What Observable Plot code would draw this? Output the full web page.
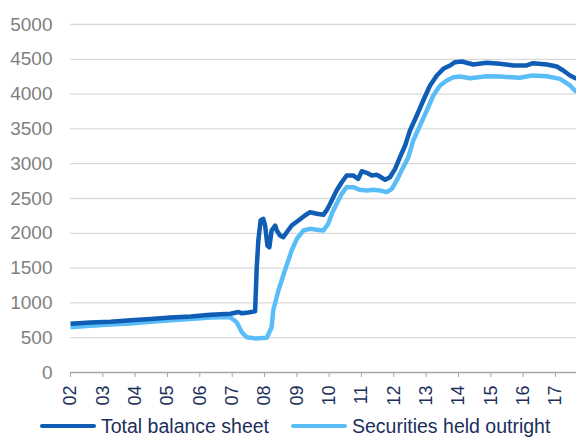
<!DOCTYPE html>
<html>
<head>
<meta charset="utf-8">
<script src="https://cdn.jsdelivr.net/npm/d3@7"></script>
<script src="https://cdn.jsdelivr.net/npm/@observablehq/plot@0.6"></script>
<style>
  html, body { margin: 0; padding: 0; background: #fff; }
  body { width: 576px; height: 437px; overflow: hidden; font-family: "Liberation Sans", Arial, sans-serif; }
  #chart svg { display: block; }
  .legend { position: relative; height: 22px; }
  .legend .item { position: absolute; top: 0px; display: flex; align-items: center; font-size: 19.5px; color: #1b2f5b; line-height: 22px; white-space: nowrap; }
  .legend .sw { display: inline-block; width: 56px; height: 4px; border-radius: 2px; margin-right: 5px; }
</style>
</head>
<body>
<div id="chart"></div>
<div class="legend" id="legend"></div>
<script>
const seriesNames = ["Total balance sheet", "Securities held outright"];
const seriesColors = ["#0f5db4", "#5bbdf8"];

const totalYears = [2002.00, 2002.62, 2003.24, 2003.86, 2004.48, 2005.10, 2005.72, 2006.33, 2006.95, 2007.20, 2007.30, 2007.50, 2007.71, 2007.76, 2007.81, 2007.88, 2007.96, 2008.02, 2008.09, 2008.15, 2008.22, 2008.33, 2008.38, 2008.48, 2008.58, 2008.69, 2008.84, 2009.05, 2009.25, 2009.41, 2009.62, 2009.82, 2009.92, 2010.03, 2010.23, 2010.39, 2010.54, 2010.75, 2010.90, 2011.01, 2011.16, 2011.32, 2011.47, 2011.57, 2011.73, 2011.88, 2012.04, 2012.19, 2012.35, 2012.50, 2012.71, 2012.91, 2013.12, 2013.33, 2013.53, 2013.74, 2013.89, 2014.10, 2014.46, 2014.87, 2015.28, 2015.70, 2016.11, 2016.31, 2016.73, 2017.04, 2017.24, 2017.45, 2017.65];
const totalValues = [700, 718, 730, 750, 770, 790, 805, 830, 845, 870, 850, 862, 880, 1513, 1897, 2184, 2208, 2112, 1825, 1800, 2040, 2112, 2040, 1968, 1944, 2016, 2112, 2184, 2256, 2303, 2280, 2266, 2328, 2424, 2615, 2734, 2830, 2830, 2783, 2892, 2869, 2830, 2840, 2816, 2768, 2806, 2926, 3093, 3261, 3477, 3693, 3908, 4124, 4267, 4363, 4411, 4459, 4468, 4425, 4449, 4435, 4411, 4411, 4444, 4425, 4397, 4339, 4267, 4219];

const secYears = [2002.00, 2002.62, 2003.24, 2003.86, 2004.48, 2005.10, 2005.72, 2006.33, 2006.93, 2007.14, 2007.30, 2007.45, 2007.71, 2008.07, 2008.22, 2008.27, 2008.43, 2008.63, 2008.84, 2009.00, 2009.20, 2009.41, 2009.62, 2009.82, 2009.97, 2010.10, 2010.23, 2010.39, 2010.54, 2010.75, 2010.95, 2011.16, 2011.37, 2011.57, 2011.78, 2011.94, 2012.09, 2012.24, 2012.45, 2012.60, 2012.81, 2013.02, 2013.22, 2013.43, 2013.64, 2013.84, 2014.05, 2014.36, 2014.87, 2015.28, 2015.90, 2016.27, 2016.73, 2017.14, 2017.45, 2017.65];
const secValues = [651, 672, 688, 705, 728, 750, 768, 790, 798, 723, 579, 507, 490, 500, 651, 891, 1178, 1466, 1753, 1920, 2040, 2064, 2050, 2040, 2136, 2300, 2424, 2567, 2663, 2663, 2625, 2615, 2625, 2615, 2591, 2639, 2759, 2902, 3093, 3333, 3549, 3764, 3980, 4124, 4196, 4243, 4253, 4229, 4257, 4253, 4234, 4267, 4257, 4219, 4124, 4028];

const yTicks = [0, 500, 1000, 1500, 2000, 2500, 3000, 3500, 4000, 4500, 5000];
const yTickLabels = ["0", "500", "1000", "1500", "2000", "2500", "3000", "3500", "4000", "4500", "5000"];
const xTicks = [2002, 2003, 2004, 2005, 2006, 2007, 2008, 2009, 2010, 2011, 2012, 2013, 2014, 2015, 2016, 2017];
const xTickLabels = ["02", "03", "04", "05", "06", "07", "08", "09", "10", "11", "12", "13", "14", "15", "16", "17"];
const xDomain = [2002, 2017.65];

const total = totalYears.map((x, i) => ({x, y: totalValues[i]}));
const sec = secYears.map((x, i) => ({x, y: secValues[i]}));
const xLabelOf = new Map(xTicks.map((t, i) => [t, xTickLabels[i]]));
const yLabelOf = new Map(yTicks.map((t, i) => [t, yTickLabels[i]]));

const chart = Plot.plot({
  width: 576,
  height: 415,
  marginLeft: 70,
  marginRight: 0,
  marginTop: 24,
  marginBottom: 43,
  style: {fontFamily: '"Liberation Sans", Arial, sans-serif', background: "#fff", overflow: "visible"},
  x: {domain: xDomain, label: null},
  y: {domain: [0, 5000], label: null},
  marks: [
    Plot.ruleY(yTicks.filter(d => d > 0), {x1: xDomain[0], x2: xDomain[1], stroke: "#d9d9d9", strokeWidth: 1.3}),
    Plot.ruleY([0], {x1: xDomain[0], x2: xDomain[1], stroke: "#a6a6a6", strokeWidth: 1.3}),
    Plot.axisY({ticks: yTicks, tickFormat: d => yLabelOf.get(d), tickSize: 0, tickPadding: 18, fontSize: 19, fill: "#7f7f7f", label: null}),
    Plot.axisX({ticks: xTicks, tickFormat: d => xLabelOf.get(d), tickSize: 5, tickPadding: 8, tickRotate: -90, fontSize: 18, fill: "#1b2f5b", stroke: "#a6a6a6", label: null}),
    Plot.line(sec, {x: "x", y: "y", stroke: seriesColors[1], strokeWidth: 4.5, strokeLinejoin: "round", strokeLinecap: "butt"}),
    Plot.line(total, {x: "x", y: "y", stroke: seriesColors[0], strokeWidth: 4.5, strokeLinejoin: "round", strokeLinecap: "butt"})
  ]
});
document.getElementById("chart").appendChild(chart);

const legend = document.getElementById("legend");
const lefts = [40, 291];
seriesNames.forEach((name, i) => {
  const item = document.createElement("div");
  item.className = "item";
  item.style.left = lefts[i] + "px";
  const sw = document.createElement("span");
  sw.className = "sw";
  sw.style.background = seriesColors[i];
  const t = document.createElement("span");
  t.textContent = name;
  item.appendChild(sw);
  item.appendChild(t);
  legend.appendChild(item);
});
</script>
</body>
</html>
